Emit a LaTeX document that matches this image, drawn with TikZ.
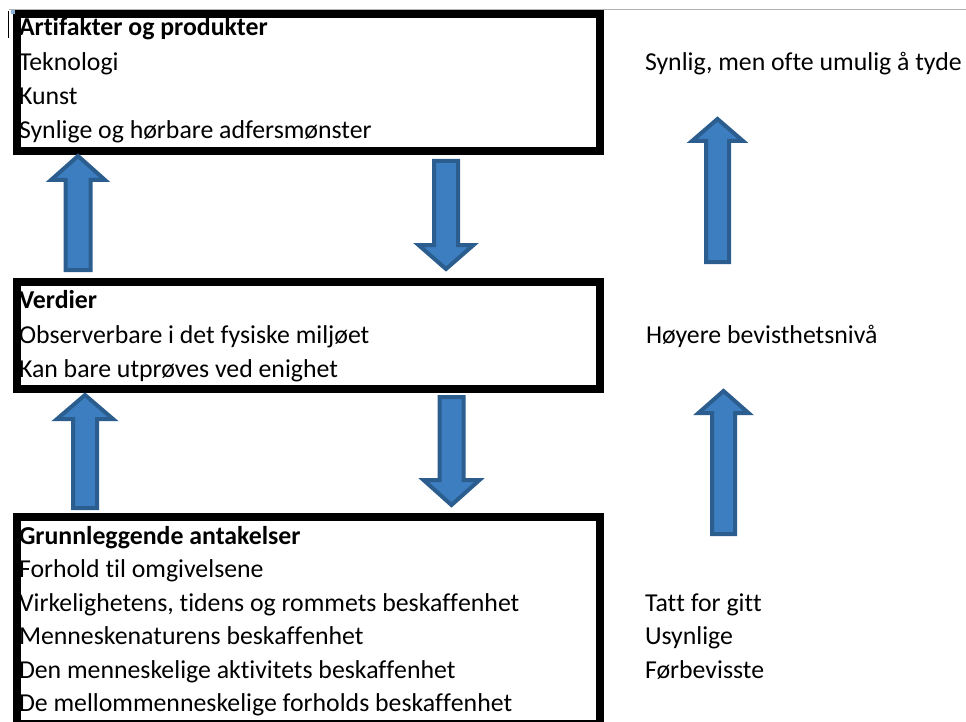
\documentclass[tikz,border=0pt]{standalone}
\usepackage{fontspec}
\setmainfont{Carlito}[RawFeature={-liga,-clig,-dlig,-calt}]
\newcommand{\nl}{\kern0pt }
\definecolor{arrfill}{RGB}{60,126,192}
\definecolor{arrline}{RGB}{43,94,143}
\newcommand{\blockarr}[6]{% cx, start y, tip y, head base y, head half, shaft half
  \draw[blockarrow] (#1-#6,#2) -- (#1-#6,#4) -- (#1-#5,#4) -- (#1,#3) -- (#1+#5,#4) -- (#1+#6,#4) -- (#1+#6,#2) -- cycle;}
\begin{document}
\begin{tikzpicture}[x=1pt,y=-1pt,
  boxframe/.style={draw=black, line width=8pt, rectangle, inner sep=0pt, outer sep=0pt, minimum width=583pt},
  blockarrow/.style={draw=arrline, fill=arrfill, line width=4pt, line join=miter},
  txt/.style={anchor=base west, inner sep=0pt, outer sep=0pt, font=\fontsize{25.8}{30}\selectfont},
  head/.style={txt, font=\fontsize{25.8}{30}\selectfont\bfseries}]
\useasboundingbox (0,0) rectangle (966,722);
\fill[white] (0,0) rectangle (966,722);
% boxes
\node[boxframe, minimum height=137pt] (b1) at (308.5,82.5) {};
\node[boxframe, minimum height=107pt] (b2) at (308.5,335.5) {};
\node[boxframe, minimum height=207pt] (b3) at (308.5,620.5) {};
% window line and cursor
\draw[black!30, line width=1pt] (9,9.5) -- (966,9.5);
\draw[black, line width=1pt] (8.5,11) -- (8.5,38);
\fill[arrfill!60] (11,10) rectangle (15,14);
% box 1 text
\node[head] (t11) at (19,36) {Art\nl ifakter og produkter};
\node[txt] (t12) at (19,71) {Teknologi};
\node[txt] (t13) at (19,105) {Kunst};
\node[txt] (t14) at (19,139) {Synlige og hørbare adfersmønster};
% box 2 text
\node[head] (t21) at (19,308) {Verdier};
\node[txt] (t22) at (19,343) {Observerbare i det fysiske miljøet};
\node[txt] (t23) at (19,377) {Kan bare utprøves ved enighet};
% box 3 text
\node[head] (t31) at (19,544) {Grunnleggende antakelser};
\node[txt] (t32) at (19,577.5) {Forhold t\nl il omgivelsene};
\node[txt] (t33) at (19,611) {Virkelighetens, t\nl idens og rommets beskaf\nl f\nl enhet};
\node[txt] (t34) at (19,644.5) {Menneskenaturens beskaf\nl f\nl enhet};
\node[txt] (t35) at (19,678) {Den menneskelige akt\nl ivitets beskaf\nl f\nl enhet};
\node[txt] (t36) at (19,711.5) {De mellommenneskelige forholds beskaf\nl f\nl enhet};
% right column
\node[txt] (r1) at (645,71) {Synlig, men of\nl te umulig å tyde};
\node[txt] (r2) at (646,343) {Høyere bevisthetsnivå};
\node[txt] (r3) at (645,611) {Tat\nl t for git\nl t};
\node[txt] (r4) at (645,644.5) {Usynlige};
\node[txt] (r5) at (645,678) {Førbevisste};
% block arrows
\blockarr{78}{270}{156}{180}{27}{12.5}
\blockarr{446}{161}{269}{245}{27.5}{12}
\blockarr{717.5}{262}{119}{141}{25.5}{11.5}
\blockarr{85}{508}{395}{419}{28}{12}
\blockarr{451.5}{397}{505}{480}{28}{12}
\blockarr{723.5}{534}{391}{413}{25}{11.5}
\end{tikzpicture}
\end{document}
